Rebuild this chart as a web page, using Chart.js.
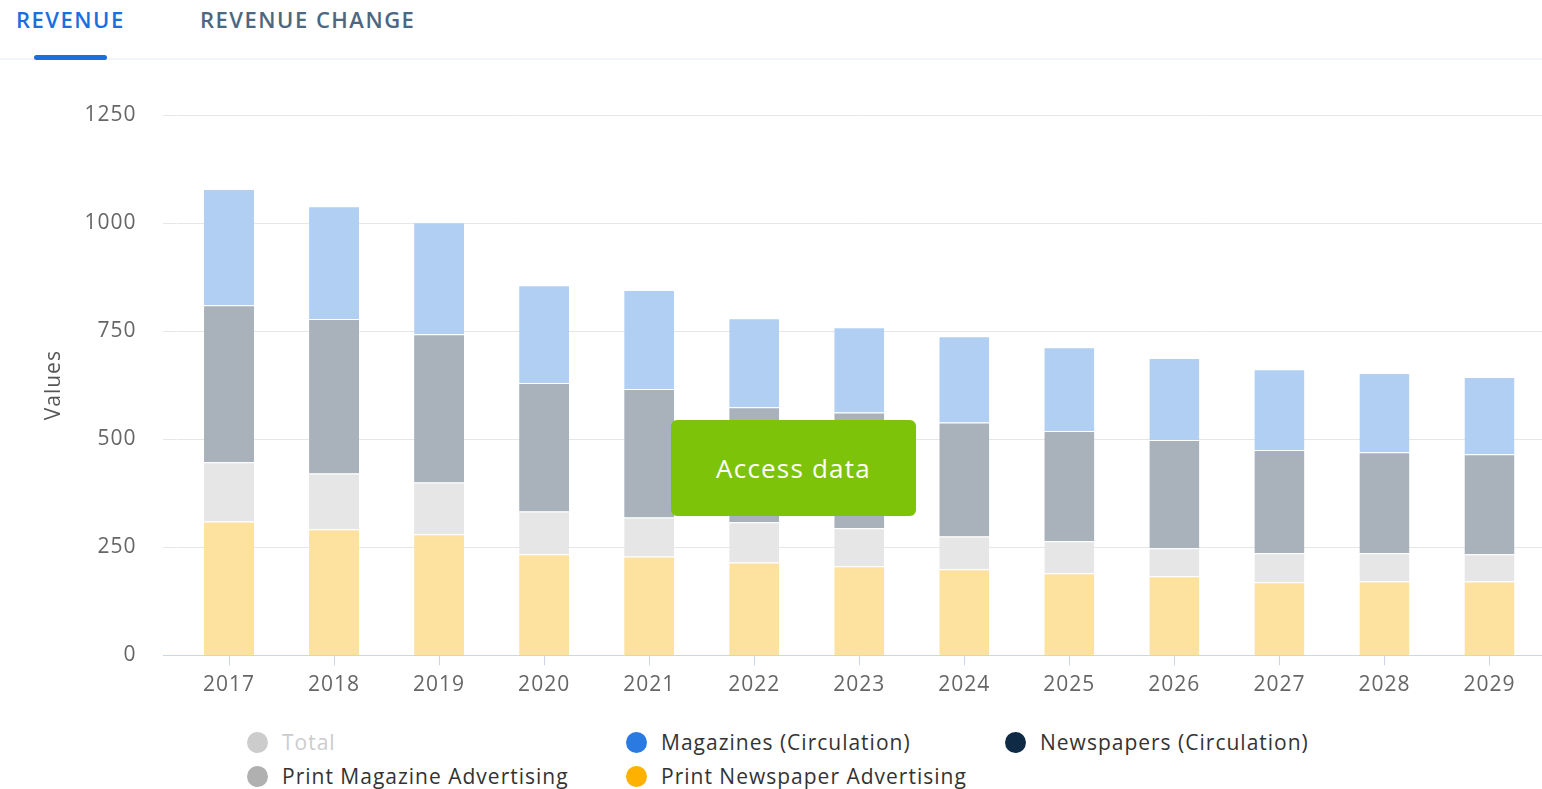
<!DOCTYPE html>
<html><head><meta charset="utf-8">
<script src="https://cdn.jsdelivr.net/npm/chart.js@4.4.0/dist/chart.umd.min.js"></script>
<style>
html,body{margin:0;padding:0;background:#fff;width:1542px;height:789px;overflow:hidden;font-family:"Open Sans",sans-serif;}
#wrap{position:relative;width:1542px;height:789px;}
.tab{position:absolute;top:3px;font-size:22px;font-weight:600;letter-spacing:1.5px;line-height:32px;}
#sep{position:absolute;left:0;top:58px;width:1542px;height:2px;background:#f1f4f8;}
#under{position:absolute;left:34px;top:55px;width:73px;height:5px;border-radius:3px;background:#1a6fdf;}
#c{position:absolute;left:0;top:0;}
#btn{position:absolute;left:671px;top:420px;width:245px;height:96px;border-radius:6px;background:#7dc30a;color:#fff;font-size:26px;letter-spacing:1.2px;display:flex;align-items:center;justify-content:center;}
.lg{position:absolute;font-size:21px;letter-spacing:1px;color:#333;line-height:28px;white-space:nowrap;}
.lg i{display:inline-block;width:21px;height:21px;border-radius:50%;vertical-align:middle;margin-right:14px;position:relative;top:-2px;}
</style></head>
<body><div id="wrap">
<div class="tab" style="left:16px;color:#1a6fdf;">REVENUE</div>
<div class="tab" style="left:200px;color:#4e6780;">REVENUE CHANGE</div>
<div id="sep"></div><div id="under"></div>
<canvas id="c" width="1542" height="708"></canvas>
<div id="btn">Access data</div>
<div id="legend"></div>
</div>
<script>
const years = ['2017','2018','2019','2020','2021','2022','2023','2024','2025','2026','2027','2028','2029'];
const printNewspaperAdvertising = [310, 292, 280, 234, 229, 215, 206, 199, 190, 183, 169, 171, 171];
const printMagazineAdvertising  = [137, 129, 120,  99,  90,  93,  88,  76,  74,  65,  67,  65,  63];
const newspapersCirculation     = [363, 357, 343, 297, 297, 266, 268, 264, 255, 250, 239, 234, 231];
const magazinesCirculation      = [269, 261, 259, 226, 229, 206, 197, 199, 194, 190, 187, 183, 179];
const yTicks = [0, 250, 500, 750, 1000, 1250];

const FONT = '"Open Sans", sans-serif';

const spacing = {
  id:'spacing',
  beforeUpdate(chart){ chart.ctx.letterSpacing = '1px'; },
  beforeLayout(chart){ chart.ctx.letterSpacing = '1px'; },
  beforeDraw(chart){ chart.ctx.letterSpacing = '1px'; }
};

const extendGrid = {
  id:'extendGrid',
  beforeDatasetsDraw(chart){
    const ctx = chart.ctx, y = chart.scales.y, a = chart.chartArea;
    ctx.save();
    ctx.lineWidth = 1;
    y.ticks.forEach(t=>{
      const py = Math.round(y.getPixelForValue(t.value)) + 0.5;
      ctx.strokeStyle = t.value === 0 ? '#ccd6eb' : '#e6e6e6';
      ctx.beginPath(); ctx.moveTo(163, py); ctx.lineTo(a.left, py); ctx.stroke();
    });
    ctx.restore();
  }
};

function ds(label, data, color){
  return {label, data, backgroundColor: color, borderColor:'#ffffff',
    borderWidth:{top:1,left:0,right:0,bottom:0}, borderSkipped:false,
    categoryPercentage:1, barPercentage:0.476, stack:'s'};
}

new Chart(document.getElementById('c'), {
  type:'bar',
  data:{
    labels: years,
    datasets:[
      ds('Print Newspaper Advertising', printNewspaperAdvertising, '#fde19f'),
      ds('Print Magazine Advertising', printMagazineAdvertising, '#e6e6e6'),
      ds('Newspapers (Circulation)', newspapersCirculation, '#a9b1bb'),
      ds('Magazines (Circulation)', magazinesCirculation, '#b0cff3')
    ]
  },
  options:{
    responsive:false, animation:false,
    layout:{padding:{top:115,right:0,bottom:0,left:0}},
    plugins:{legend:{display:false}, tooltip:{enabled:false}},
    scales:{
      x:{stacked:true,
        grid:{display:true, drawOnChartArea:false, drawTicks:true, tickLength:10, offset:false, color:'#ccd6eb'},
        border:{display:true, color:'#ccd6eb'},
        ticks:{font:{family:FONT,size:21}, color:'#666', padding:7, maxRotation:0},
        afterFit(s){ s.height = 45; }
      },
      y:{stacked:true, min:0, max:1250,
        afterBuildTicks(s){ s.ticks = yTicks.map(v=>({value:v})); },
        ticks:{font:{family:FONT,size:21}, color:'#666', padding:40, callback:v=>String(v)},
        grid:{color:'#e6e6e6', drawTicks:false},
        border:{display:false},
        title:{display:true, text:'Values', color:'#555', font:{family:FONT,size:21}, padding:{top:41,bottom:0}},
        afterFit(s){ s.width = 176.5; }
      }
    }
  },
  plugins:[spacing, extendGrid]
});

const legendItems = [
  {name:'Total', color:'#cccccc', hidden:true, x:247, y:728},
  {name:'Magazines (Circulation)', color:'#2a7ae2', x:626, y:728},
  {name:'Newspapers (Circulation)', color:'#0f2a44', x:1005, y:728},
  {name:'Print Magazine Advertising', color:'#b0b0b0', x:247, y:762},
  {name:'Print Newspaper Advertising', color:'#ffb100', x:626, y:762}
];
const lg = document.getElementById('legend');
legendItems.forEach(it=>{
  const d = document.createElement('div');
  d.className='lg';
  d.style.left = it.x+'px'; d.style.top = it.y+'px';
  if (it.hidden) d.style.color = '#cccccc';
  const c = document.createElement('i'); c.style.background = it.color;
  d.appendChild(c); d.appendChild(document.createTextNode(it.name));
  lg.appendChild(d);
});
</script>
</body></html>
